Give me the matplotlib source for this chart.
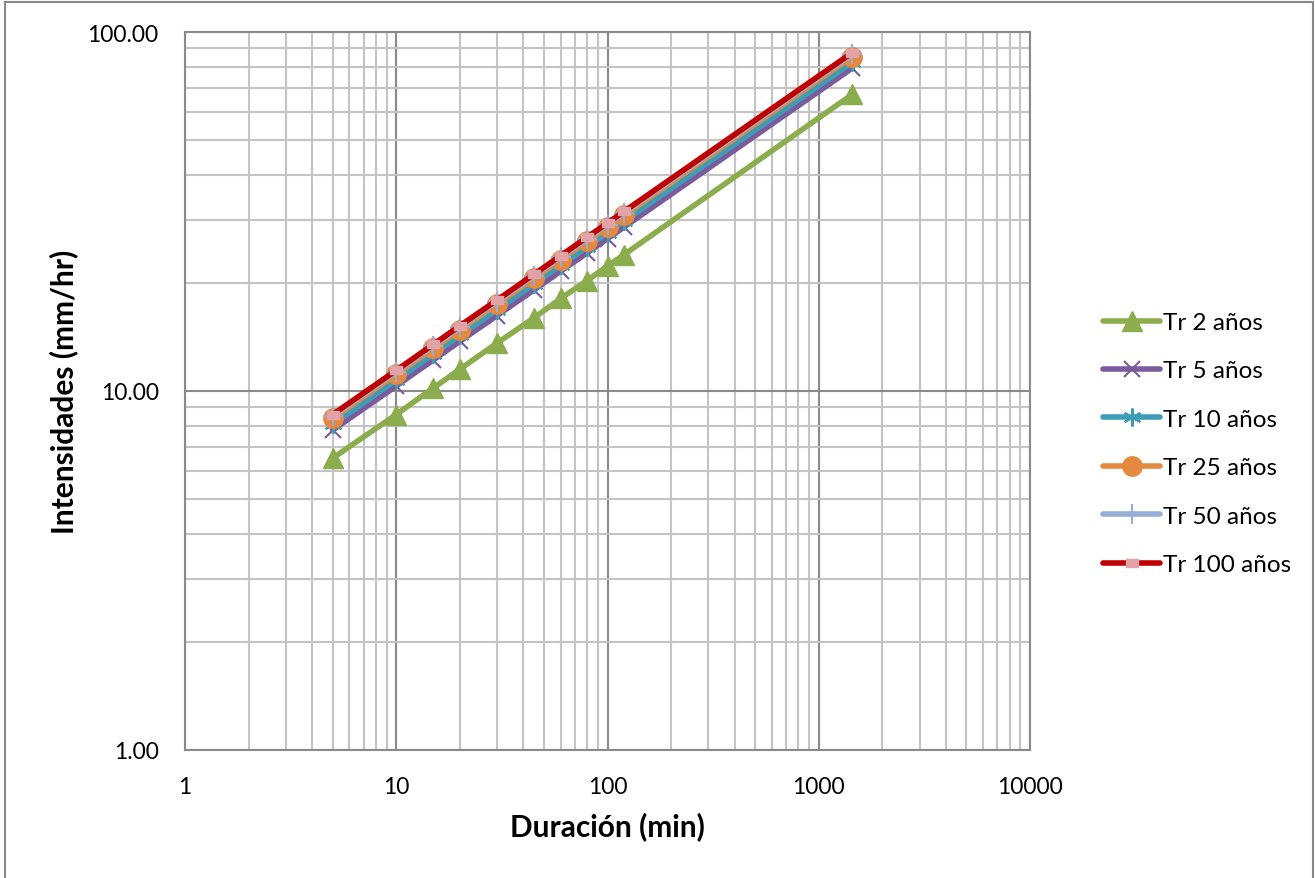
import numpy as np
import matplotlib.pyplot as plt
from matplotlib.patches import Rectangle
from matplotlib.path import Path
from matplotlib.ticker import FixedLocator, NullFormatter

plt.rcParams.update({'font.family': ['Lato', 'DejaVu Sans']})

# duration (min)
duracion = [5, 10, 15, 20, 30, 45, 60, 80, 100, 120, 1440]

# intensities (mm/hr)
tr2 = [6.5, 8.6, 10.2, 11.5, 13.6, 16.0, 18.1, 20.3, 22.3, 24.0, 67.0]
tr5 = [7.78, 10.33, 12.21, 13.75, 16.22, 19.15, 21.56, 24.25, 26.58, 28.64, 79.3]
tr10 = [8.08, 10.73, 12.68, 14.28, 16.84, 19.89, 22.39, 25.19, 27.61, 29.75, 82.3]
tr25 = [8.39, 11.13, 13.15, 14.81, 17.47, 20.63, 23.22, 26.13, 28.64, 30.86, 85.4]
tr50 = [8.51, 11.31, 13.36, 15.04, 17.74, 20.95, 23.58, 26.53, 29.08, 31.33, 86.7]
tr100 = [8.6, 11.42, 13.49, 15.19, 17.92, 21.16, 23.82, 26.80, 29.37, 31.65, 87.6]

labels = ["Tr 2 años", "Tr 5 años", "Tr 10 años", "Tr 25 años", "Tr 50 años", "Tr 100 años"]
xticks = [1, 10, 100, 1000, 10000]
yticks = [1, 10, 100]

dash = Path([(-1, -0.6), (1, -0.6), (1, 0.6), (-1, 0.6), (-1, -0.6)],
            [Path.MOVETO, Path.LINETO, Path.LINETO, Path.LINETO, Path.CLOSEPOLY])

styles = [
    dict(color="#8CAD4D", marker="^", ms=14, mfc="#8CAD4D", mec="#8CAD4D"),
    dict(color="#7A5C9E", marker="x", ms=12, mew=1.5, mec="#7A5C9E"),
    dict(color="#3E9DB6", marker=(6, 2, 0), ms=13, mew=1.5, mec="#3E9DB6"),
    dict(color="#E4893D", marker="o", ms=14, mfc="#E4893D", mec="#E4893D"),
    dict(color="#94AED6", marker="+", ms=14, mew=1.5, mec="#94AED6"),
    dict(color="#C00000", marker=dash, ms=9, mfc="#E3A3A6", mec="#E3A3A6"),
]

fig = plt.figure(figsize=(13.15, 8.79), dpi=100)
ax = fig.add_axes([185/1315, 1-751/879, 845/1315, 718/879])

series = [tr2, tr5, tr10, tr25, tr50, tr100]
for ys, lab, st in zip(series, labels, styles):
    ax.plot(duracion, ys, lw=4, label=lab, solid_capstyle="round", **st)

ax.set_xscale("log")
ax.set_yscale("log")
ax.set_xlim(1, 10000)
ax.set_ylim(1, 100)

ax.xaxis.set_major_locator(FixedLocator(xticks))
ax.yaxis.set_major_locator(FixedLocator(yticks))
ax.set_xticklabels([str(v) for v in xticks])
ax.set_yticklabels(["%.2f" % v for v in yticks])
ax.xaxis.set_minor_formatter(NullFormatter())
ax.yaxis.set_minor_formatter(NullFormatter())
ax.tick_params(which="both", length=0, labelsize=16.5, pad=19)

ax.grid(True, which="minor", color="#C4C4C4", lw=1.5)
ax.grid(True, which="major", color="#8A8A8A", lw=1.5)
ax.set_axisbelow(True)
for s in ax.spines.values():
    s.set_color("#8A8A8A")
    s.set_linewidth(1.5)

ax.set_xlabel("Duración (min)", fontsize=21.5, fontweight="bold", labelpad=10)
ax.set_ylabel("Intensidades (mm/hr)", fontsize=21.5, fontweight="bold", labelpad=7)

fig.legend(loc="upper left", bbox_to_anchor=(1103/1315, 1-313/879), frameon=False,
           fontsize=17.5, handlelength=2.35, handletextpad=0.1, labelspacing=1.13,
           borderpad=0, borderaxespad=0)

fig.patches.append(Rectangle((5/1315, -0.02), 1308/1315, 1.02-3/879, transform=fig.transFigure,
                             fill=False, ec="#888888", lw=1.5))

fig.savefig("out.png", dpi=100)
